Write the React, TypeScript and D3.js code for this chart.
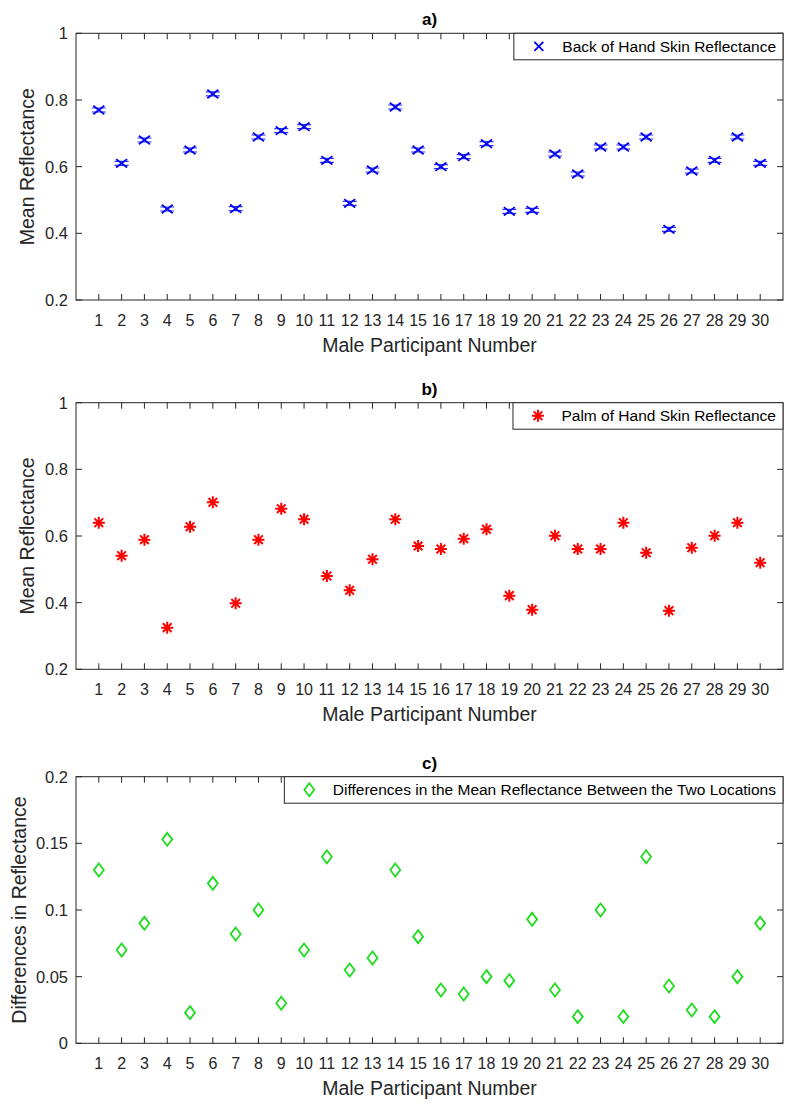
import React, { useEffect, useRef } from "react";
import * as d3 from "d3";

const participants = [1,2,3,4,5,6,7,8,9,10,11,12,13,14,15,16,17,18,19,20,21,22,23,24,25,26,27,28,29,30];
const backValues = [0.770,0.610,0.680,0.473,0.650,0.818,0.474,0.689,0.708,0.720,0.619,0.490,0.590,0.779,0.650,0.600,0.630,0.669,0.466,0.469,0.638,0.578,0.659,0.659,0.689,0.412,0.587,0.619,0.689,0.610];
const palmValues = [0.640,0.541,0.589,0.325,0.628,0.701,0.398,0.589,0.682,0.650,0.480,0.437,0.530,0.650,0.570,0.561,0.592,0.620,0.421,0.379,0.601,0.561,0.561,0.640,0.550,0.376,0.565,0.601,0.640,0.520];
const diffValues = [0.130,0.070,0.090,0.153,0.023,0.120,0.082,0.100,0.030,0.070,0.140,0.055,0.064,0.130,0.080,0.040,0.037,0.050,0.047,0.093,0.040,0.020,0.100,0.020,0.140,0.043,0.025,0.020,0.050,0.090];
const reflTicks = [0.2, 0.4, 0.6, 0.8, 1];
const reflTickLabels = ["0.2", "0.4", "0.6", "0.8", "1"];
const diffTicks = [0, 0.05, 0.1, 0.15, 0.2];
const diffTickLabels = ["0", "0.05", "0.1", "0.15", "0.2"];
const xLabel = "Male Participant Number";

const FONT = "'Liberation Sans', Arial, sans-serif";
const AX = "#262626";

export default function App() {
  const ref = useRef<SVGSVGElement>(null);
  useEffect(() => {
    document.body.style.margin = "0";
    const svg = d3.select(ref.current);
    svg.selectAll("*").remove();
    const left = 76, right = 783;
    const x = d3.scaleLinear().domain([0, 31]).range([left, right]);

    const panels = [
      { top: 33.3, bottom: 300, domain: [0.2, 1], ticks: reflTicks, tickLabels: reflTickLabels, values: backValues,
        title: "a)", yLabel: "Mean Reflectance", yLabelX: 27, legend: "Back of Hand Skin Reflectance", marker: "x", color: "#0000f0" },
      { top: 402.7, bottom: 669.3, domain: [0.2, 1], ticks: reflTicks, tickLabels: reflTickLabels, values: palmValues,
        title: "b)", yLabel: "Mean Reflectance", yLabelX: 27, legend: "Palm of Hand Skin Reflectance", marker: "star", color: "#ff0000" },
      { top: 776.7, bottom: 1043.3, domain: [0, 0.2], ticks: diffTicks, tickLabels: diffTickLabels, values: diffValues,
        title: "c)", yLabel: "Differences in Reflectance", yLabelX: 19, legend: "Differences in the Mean Reflectance Between the Two Locations", marker: "diamond", color: "#1edc1e" },
    ];

    const drawMarker = (g: any, type: string, color: string, cx: number, cy: number, legend = false) => {
      if (type === "x") {
        const sx = legend ? 4.5 : 5.5, sy = legend ? 4.5 : 4.2;
        g.append("path").attr("d", `M${cx - sx},${cy - sy}L${cx + sx},${cy + sy}M${cx - sx},${cy + sy}L${cx + sx},${cy - sy}`)
          .attr("stroke", color).attr("stroke-width", 1.8).attr("fill", "none");
        if (!legend) {
          g.append("path").attr("d", `M${cx - 7},${cy - 2}L${cx + 7},${cy - 2}M${cx - 7},${cy + 2}L${cx + 7},${cy + 2}`)
            .attr("stroke", color).attr("stroke-width", 1.2).attr("opacity", 0.8).attr("fill", "none");
        }
      } else if (type === "star") {
        const r = 6;
        const d = r * 0.72;
        g.append("path").attr("d",
          `M${cx - r},${cy}L${cx + r},${cy}M${cx},${cy - r}L${cx},${cy + r}M${cx - d},${cy - d}L${cx + d},${cy + d}M${cx - d},${cy + d}L${cx + d},${cy - d}`)
          .attr("stroke", color).attr("stroke-width", 2).attr("fill", "none");
      } else {
        const w = 5, h = 6.5;
        g.append("path").attr("d", `M${cx},${cy - h}L${cx + w},${cy}L${cx},${cy + h}L${cx - w},${cy}Z`)
          .attr("stroke", color).attr("stroke-width", 1.8).attr("fill", "none");
      }
    };

    panels.forEach((p) => {
      const y = d3.scaleLinear().domain(p.domain).range([p.bottom, p.top]);
      const g = svg.append("g");
      g.append("rect").attr("x", left).attr("y", p.top).attr("width", right - left).attr("height", p.bottom - p.top)
        .attr("fill", "none").attr("stroke", AX).attr("stroke-width", 1);
      participants.forEach((n) => {
        const xx = x(n);
        g.append("line").attr("x1", xx).attr("x2", xx).attr("y1", p.bottom).attr("y2", p.bottom - 6).attr("stroke", AX);
        g.append("line").attr("x1", xx).attr("x2", xx).attr("y1", p.top).attr("y2", p.top + 6).attr("stroke", AX);
        g.append("text").attr("x", xx).attr("y", p.bottom + 26).attr("text-anchor", "middle")
          .attr("font-family", FONT).attr("font-size", 16).attr("fill", AX).text(String(n));
      });
      p.ticks.forEach((t, i) => {
        const yy = y(t);
        g.append("line").attr("x1", left).attr("x2", left + 6).attr("y1", yy).attr("y2", yy).attr("stroke", AX);
        g.append("line").attr("x1", right).attr("x2", right - 6).attr("y1", yy).attr("y2", yy).attr("stroke", AX);
        g.append("text").attr("x", 68).attr("y", yy + 6).attr("text-anchor", "end")
          .attr("font-family", FONT).attr("font-size", 16.5).attr("fill", AX).text(p.tickLabels[i]);
      });
      g.append("text").attr("x", (left + right) / 2).attr("y", p.bottom + 52).attr("text-anchor", "middle")
        .attr("font-family", FONT).attr("font-size", 19.5).attr("fill", AX).text(xLabel);
      g.append("text").attr("transform", `translate(${p.yLabelX + 7},${(p.top + p.bottom) / 2}) rotate(-90)`)
        .attr("text-anchor", "middle").attr("font-family", FONT).attr("font-size", 19.5).attr("fill", AX).text(p.yLabel);
      g.append("text").attr("x", (left + right) / 2).attr("y", p.top - 8).attr("text-anchor", "middle")
        .attr("font-family", FONT).attr("font-size", 17).attr("font-weight", "bold").attr("fill", "#000").text(p.title);
      p.values.forEach((v, i) => drawMarker(g, p.marker, p.color, x(participants[i]), y(v)));
      const lg = svg.append("g");
      const rect = lg.append("rect");
      const txt = lg.append("text").attr("x", 776).attr("y", p.top + 18.5).attr("text-anchor", "end")
        .attr("font-family", FONT).attr("font-size", 15.5).attr("fill", "#000").text(p.legend);
      const tw = (txt.node() as SVGTextElement).getComputedTextLength();
      const ts = 776 - tw;
      const bx = ts - 48.5;
      rect.attr("x", bx).attr("y", p.top).attr("width", right - bx).attr("height", 26.5)
        .attr("fill", "#fff").attr("stroke", AX).attr("stroke-width", 1);
      drawMarker(lg, p.marker, p.color, ts - 23.5, p.top + 13, true);
    });
  }, []);
  return <svg ref={ref} width={797} height={1107} style={{ display: "block", background: "#fff" }} />;
}
